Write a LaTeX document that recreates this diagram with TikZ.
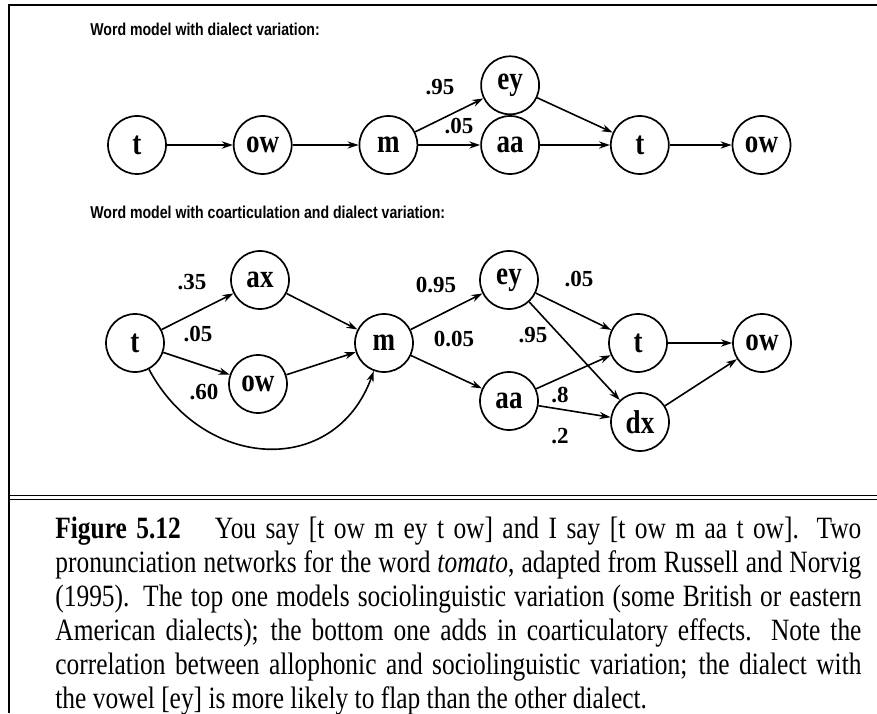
\documentclass[tikz,border=0pt]{standalone}
\usepackage{fontspec}
\setmainfont{Liberation Serif}[FakeStretch=0.82]
\newfontfamily\headfont{Liberation Sans}[FakeStretch=0.82]
\newfontfamily\probfont{Liberation Serif}
\usetikzlibrary{arrows.meta, positioning}
\tikzset{
  phone/.style={circle, draw=black, line width=0.85pt, minimum size=29pt,
                inner sep=0pt, font=\fontsize{16.5}{18}\selectfont\bfseries},
  trans/.style={-{Stealth[length=5.5pt, width=3.6pt]}, draw=black, line width=0.8pt},
  prob/.style={font=\probfont\fontsize{11.5}{13}\selectfont\bfseries, inner sep=0pt},
  heading/.style={font=\headfont\fontsize{8.6}{10}\selectfont\bfseries,
                  anchor=west, inner sep=0pt},
  rule/.style={draw=black, line width=0.8pt},
}

\begin{document}
\begin{tikzpicture}[x=0.5pt, y=0.5pt]
  \useasboundingbox (0,0) rectangle (877,713);
  % frame
  \draw[line width=1pt] (877,707.5) -- (9,707.5) -- (9,0);
  \draw[rule] (9,217.7) -- (877,217.7);
  \draw[rule] (9,213.7) -- (877,213.7);

  % dialect variation
  \node[heading] (headA) at (90,684) {Word model with dialect variation:};
  \node[phone] (tA) at (137,568) {t};
  \node[phone, right=33pt of tA] (owA) {ow};
  \node[phone, right=33pt of owA] (mA) {m};
  \node[phone, right=31pt of mA] (aaA) {aa};
  \node[phone, above=0pt of aaA] (eyA) {ey};
  \node[phone, right=35pt of aaA] (tAb) {t};
  \node[phone, right=31pt of tAb] (owAb) {ow};

  \draw[trans] (tA) -- (owA);
  \draw[trans] (owA) -- (mA);
  \draw[trans] (mA) -- (eyA);
  \draw[trans] (mA) -- (aaA);
  \draw[trans] (eyA) -- (tAb);
  \draw[trans] (aaA) -- (tAb);
  \draw[trans] (tAb) -- (owAb);

  \node[prob] at (440,626) {.95};
  \node[prob] at (459,587) {.05};

  % coarticulation and dialect variation
  \node[heading] (headB) at (90,501)
    {Word model with coarticulation and dialect variation:};
  \node[phone] (tB) at (135,370) {t};
  \node[phone] (axB) at (260,433) {ax};
  \node[phone] (owB) at (258,329) {ow};
  \node[phone] (mB) at (384,370) {m};
  \node[phone] (eyB) at (509,433) {ey};
  \node[phone] (aaB) at (509,312) {aa};
  \node[phone] (tBb) at (638,370) {t};
  \node[phone] (dxB) at (640,291) {dx};
  \node[phone] (owBb) at (762,370) {ow};

  \draw[trans] (tB) -- (axB);
  \draw[trans] (tB) -- (owB);
  \draw[trans] (tB) to[out=-62, in=-110, looseness=1.3] (mB);
  \draw[trans] (axB) -- (mB);
  \draw[trans] (owB) -- (mB);
  \draw[trans] (mB) -- (eyB);
  \draw[trans] (mB) -- (aaB);
  \draw[trans] (eyB) -- (tBb);
  \draw[trans] (eyB) -- (dxB);
  \draw[trans] (aaB) -- (tBb);
  \draw[trans] (aaB) -- (dxB);
  \draw[trans] (tBb) -- (owBb);
  \draw[trans] (dxB) -- (owBb);

  \node[prob] at (192,431) {.35};
  \node[prob] at (198,379) {.05};
  \node[prob] at (204,321) {.60};
  \node[prob] at (436,428) {0.95};
  \node[prob] at (454,374) {0.05};
  \node[prob] at (579,434) {.05};
  \node[prob] at (533,378) {.95};
  \node[prob] at (560,318) {.8};
  \node[prob] at (560,277) {.2};

  % caption
  \node[anchor=base west, text width=403pt, align=justify, inner sep=0pt,
        font=\fontsize{15.5}{17}\selectfont] (caption) at (55,175)
    {\textbf{Figure 5.12}\hspace{1.1em}You say [t ow m ey t ow] and I say
     [t ow m aa t ow].  Two\linebreak
     pronunciation networks for the word \textit{tomato}, adapted from Russell
     and Norvig\linebreak
     (1995). The top one models sociolinguistic variation (some British or
     eastern\linebreak
     American dialects); the bottom one adds in coarticulatory effects.  Note
     the\linebreak
     correlation between allophonic and sociolinguistic variation; the dialect
     with\linebreak
     the vowel [ey] is more likely to flap than the other dialect.};
\end{tikzpicture}
\end{document}
